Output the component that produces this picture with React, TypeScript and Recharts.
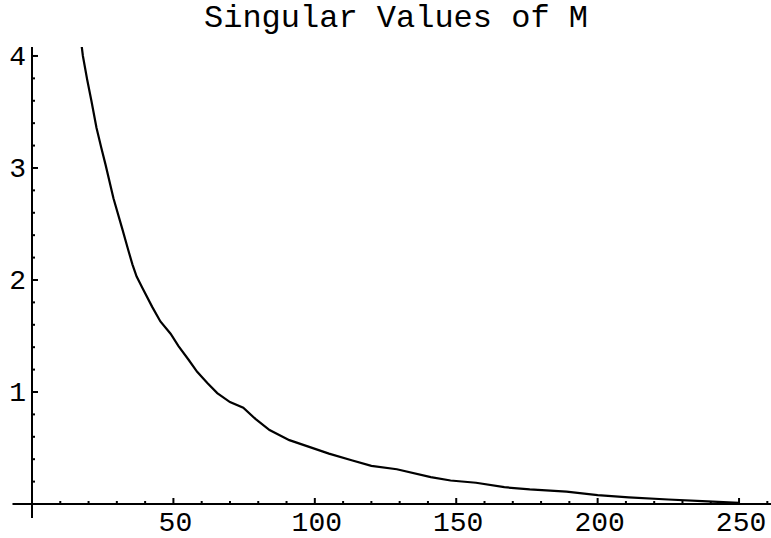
import React from "react";
import { LineChart, Line, XAxis, YAxis, ReferenceLine } from "recharts";

const titleText = "Singular Values of M";

const indexValues = [
  17.5, 18, 19.5, 21, 22.8, 24.5, 26, 28.8, 32, 34, 35.5, 37, 39, 42.5, 45.4, 49,
  51.8, 55.3, 58.4, 62, 65.5, 70, 74.7, 79, 84, 91, 98, 105, 113, 120, 129, 141,
  148, 157, 167, 176, 189, 200, 211, 225, 237, 250,
];
const singularValues = [
  4.1, 4.0, 3.79, 3.6, 3.36, 3.18, 3.03, 2.73, 2.45, 2.27, 2.14, 2.03, 1.93, 1.76, 1.63, 1.52,
  1.41, 1.29, 1.18, 1.08, 0.99, 0.91, 0.86, 0.76, 0.66, 0.57, 0.51, 0.45, 0.39, 0.34, 0.31, 0.24,
  0.21, 0.19, 0.15, 0.13, 0.11, 0.08, 0.06, 0.04, 0.025, 0.01,
];

const xTickValues = [10, 20, 30, 40, 50, 60, 70, 80, 90, 100, 110, 120, 130, 140, 150, 160, 170, 180, 190, 200, 210, 220, 230, 240, 250, 260];
const xTickLabels = [50, 100, 150, 200, 250];
const yTickValues = [0.2, 0.4, 0.6, 0.8, 1, 1.2, 1.4, 1.6, 1.8, 2, 2.2, 2.4, 2.6, 2.8, 3, 3.2, 3.4, 3.6, 3.8, 4];
const yTickLabels = [1, 2, 3, 4];

const data = indexValues.map((x, i) => ({ x, y: singularValues[i] }));

const FONT = "'Liberation Mono', 'DejaVu Sans Mono', monospace";

const XTick = (props: any) => {
  const { x, y, payload } = props;
  const v = payload.value;
  const major = xTickLabels.includes(v);
  return (
    <g>
      <line x1={x} x2={x} y1={y} y2={y - (major ? 6 : 3)} stroke="#000" strokeWidth={2} />
      {major && (
        <text x={x + 2} y={y + 27} textAnchor="middle" fontFamily={FONT} fontSize={28} fill="#000">
          {v}
        </text>
      )}
    </g>
  );
};

const YTick = (props: any) => {
  const { x, y, payload } = props;
  const v = payload.value;
  const major = yTickLabels.some((t) => Math.abs(t - v) < 1e-9);
  return (
    <g>
      <line x1={x} x2={x + (major ? 6 : 3)} y1={y} y2={y} stroke="#000" strokeWidth={2} />
      {major && (
        <text x={x - 6} y={y + 9} textAnchor="end" fontFamily={FONT} fontSize={28} fill="#000">
          {v}
        </text>
      )}
    </g>
  );
};

export default function App() {
  return (
    <div style={{ position: "absolute", left: 0, top: 0, width: 771, height: 538, background: "#fff" }}>
      <div
        style={{
          position: "absolute",
          left: 0,
          top: 3,
          width: 792,
          textAlign: "center",
          fontFamily: FONT,
          fontSize: 32,
          lineHeight: "32px",
          color: "#000",
          whiteSpace: "pre",
        }}
      >
        {titleText}
      </div>
      <LineChart width={771} height={538} data={data} margin={{ top: 47, right: 0, bottom: 33, left: 31 }}>
        <XAxis
          type="number"
          dataKey="x"
          domain={[0, 261.3]}
          allowDataOverflow
          ticks={xTickValues}
          interval={0}
          height={1}
          tickSize={0}
          tickMargin={0}
          tickLine={false}
          axisLine={{ stroke: "#000", strokeWidth: 2 }}
          tick={<XTick />}
        />
        <YAxis
          type="number"
          domain={[0, 4.08]}
          allowDataOverflow
          ticks={yTickValues}
          interval={0}
          width={1}
          tickSize={0}
          tickMargin={0}
          tickLine={false}
          axisLine={{ stroke: "#000", strokeWidth: 2 }}
          tick={<YTick />}
        />
        <ReferenceLine segment={[{ x: -6.9, y: 0 }, { x: 0, y: 0 }]} ifOverflow="visible" stroke="#000" strokeWidth={2} />
        <ReferenceLine segment={[{ x: 0, y: 0 }, { x: 0, y: -0.125 }]} ifOverflow="visible" stroke="#000" strokeWidth={2} />
        <Line
          type="linear"
          dataKey="y"
          stroke="#000"
          strokeWidth={2.2}
          dot={false}
          isAnimationActive={false}
        />
      </LineChart>
    </div>
  );
}
